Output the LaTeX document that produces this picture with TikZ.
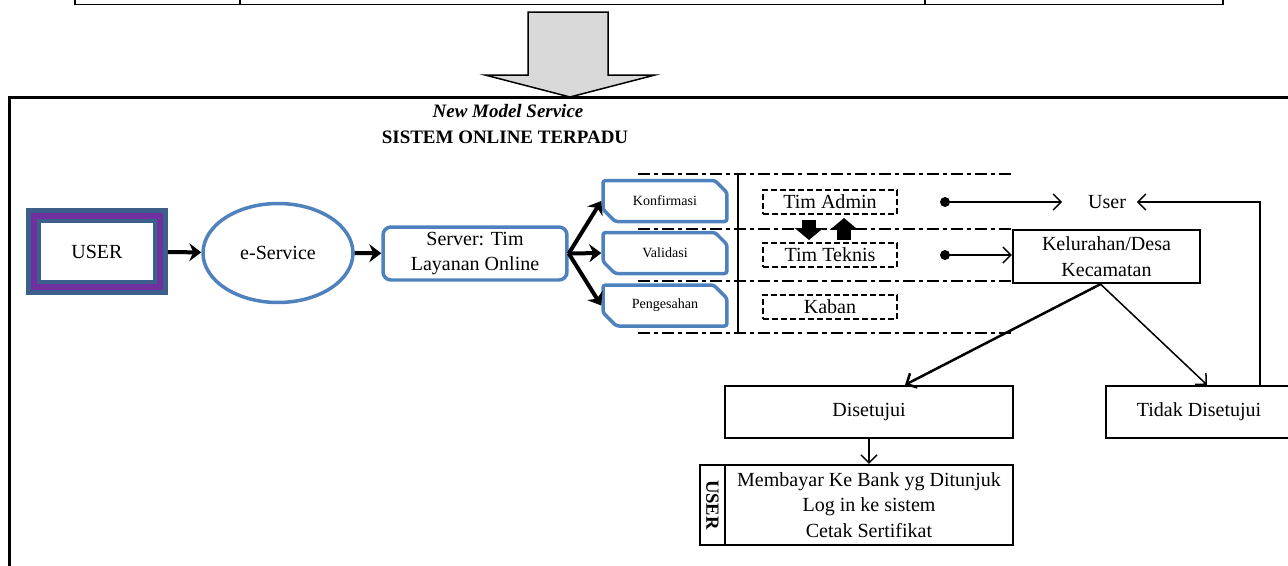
\documentclass[tikz,border=0pt]{standalone}
\usepackage{fontspec}
\setmainfont{Liberation Serif}
\usetikzlibrary{positioning,arrows.meta,calc,shapes.geometric,shapes.misc}
\definecolor{boxblue}{RGB}{79,129,189}
\definecolor{userblue}{RGB}{60,95,140}
\definecolor{userpurple}{RGB}{112,48,160}
\definecolor{arrowgray}{RGB}{217,217,217}
\tikzset{
    txt/.style={font=\fontsize{11.4}{14.5}\selectfont, inner sep=2pt, align=center},
    userbox/.style={txt, draw=userblue, double=userpurple, line width=0.09cm,
        double distance=0.12cm, fill=white, minimum width=2.54cm,
        minimum height=1.44cm, outer sep=0.15cm},
    svc/.style={txt, ellipse, draw=boxblue, line width=0.07cm,
        minimum width=3cm, minimum height=1.98cm},
    srv/.style={txt, draw=boxblue, line width=0.07cm, rounded corners=0.16cm,
        minimum width=3.68cm, minimum height=1.06cm},
    stage/.style={font=\fontsize{8}{10}\selectfont, draw=boxblue, line width=0.07cm,
        chamfered rectangle, chamfered rectangle corners={north east,south west},
        chamfered rectangle sep=0.14cm, rounded corners=1.5pt,
        minimum width=2.48cm, minimum height=0.82cm, inner sep=0pt},
    team/.style={txt, draw, line width=0.04cm, dash pattern=on 3.4pt off 1.7pt,
        minimum width=2.68cm, minimum height=0.48cm, inner sep=0pt},
    plain/.style={txt, draw, line width=0.045cm},
    rowline/.style={line width=0.04cm, dash pattern=on 6.8pt off 2.3pt on 2.3pt off 2.3pt},
    bigarrow/.style={line width=0.08cm, -{Stealth[length=0.24cm,width=0.36cm,inset=0.08cm]}},
    link/.style={line width=0.03cm, -{Straight Barb[length=0.16cm,width=0.32cm]}},
    block/.style={line width=0.28cm, -{Triangle[length=0.24cm,width=0.56cm]}},
    dot/.style={circle, fill, inner sep=0pt, minimum size=0.2cm}
}
\begin{document}
\begin{tikzpicture}[x=0.02cm, y=-0.02cm]
    \useasboundingbox (0,0) rectangle (1288,565);

    \draw[line width=0.035cm] (75,0) -- (75,4.5) -- (1223,4.5) -- (1223,0)
        (240,0) -- (240,4.5) (925,0) -- (925,4.5);
    \draw[line width=0.03cm, fill=arrowgray] (528,12) -- (608,12) -- (608,75) -- (655,75)
        -- (570,97) -- (485,75) -- (528,75) -- cycle;
    \draw[line width=0.06cm] (9.5,570) -- (9.5,97) -- (1295,97);

    \node[font=\fontsize{10.8}{13}\selectfont\bfseries\itshape] (nms) at (508,111) {New Model Service};
    \node[font=\fontsize{10.8}{13}\selectfont\bfseries] (sot) at (505,137) {SISTEM ONLINE TERPADU};

    \node[userbox] (user) at (97,251.5) {USER};
    \node[svc] (esvc) at (278,253) {e-Service};
    \node[srv] (srv) at (475,253.5) {Server: Tim\\Layanan Online};
    \node[stage] (konf) at (665,201) {Konfirmasi};
    \node[stage] (val) at (665,253) {Validasi};
    \node[stage] (sah) at (665,305.5) {Pengesahan};

    \draw[bigarrow] (user) -- (esvc);
    \draw[bigarrow] (esvc) -- (srv);
    \draw[bigarrow] (srv.east) -- (konf.west);
    \draw[bigarrow] (srv.east) -- (val.west);
    \draw[bigarrow] (srv.east) -- (sah.west);

    \foreach \y in {174,229,281,333}
        \draw[rowline] (638,\y) -- (1012,\y);
    \draw[line width=0.04cm] (738,174) -- (738,333);

    \node[team] (adm) at (830,202) {Tim Admin};
    \node[team] (tek) at (830,255) {Tim Teknis};
    \node[team] (kab) at (830,307) {Kaban};

    \draw[block] ($(adm.south)+(-21,5)$) -- ($(tek.north)+(-21,-2)$);
    \draw[block] ($(tek.north)+(14,-2)$) -- ($(adm.south)+(14,3)$);

    \node[dot] (d1) at (945,202) {};
    \node[dot] (d2) at (945,255) {};
    \node[txt] (usr) at (1107,202) {User};
    \node[plain, minimum width=3.74cm, minimum height=1.06cm] (kel) at (1106.5,256.5) {Kelurahan/Desa\\Kecamatan};
    \node[plain, minimum width=5.76cm, minimum height=1.04cm] (ok) at (869,412) {Disetujui};
    \node[plain, minimum width=3.72cm, minimum height=1.04cm] (no) at (1199,412) {Tidak Disetujui};
    \node[plain, minimum width=5.76cm, minimum height=1.6cm] (todo) at (869,505)
        {Membayar Ke Bank yg Ditunjuk\\Log in ke sistem\\Cetak Sertifikat};
    \node[plain, font=\fontsize{10.6}{13}\selectfont\bfseries, rotate=-90,
        minimum width=1.6cm, minimum height=0.5cm, inner sep=0pt] (uc) at (712.5,505) {USER};
    \coordinate (rt) at (1260,0);

    \draw[link, shorten >=0.44cm] (d1.center) -- (usr.west);
    \draw[link] (d2.center) -- (d2.center -| kel.west);
    \draw[link, line width=0.05cm] ($(kel.south)+(-6,0)$) -- ($(ok.north)+(36,0)$);
    \draw[link] ($(kel.south)+(-6,0)$) -- ($(no.north)+(8,0)$);
    \draw[link, shorten >=0.14cm] (no.north -| rt) |- (usr.east);
    \draw[link] (ok) -- (todo);
\end{tikzpicture}
\end{document}
